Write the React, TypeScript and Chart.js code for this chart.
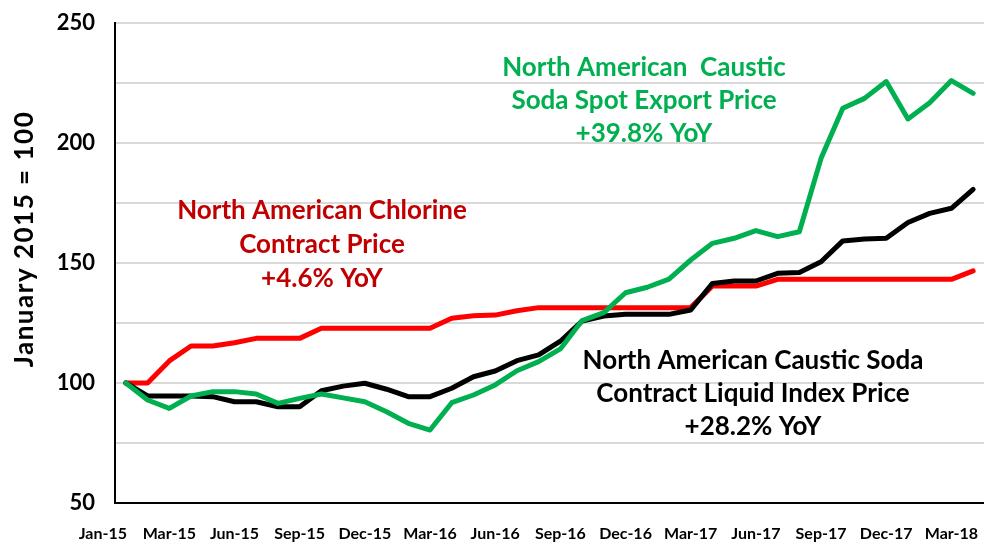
import React, { useEffect, useRef } from "react";
import { Chart, registerables } from "chart.js";

Chart.register(...registerables);

const months = [
  "Jan-15", "Feb-15", "Mar-15", "Apr-15", "May-15", "Jun-15", "Jul-15", "Aug-15", "Sep-15", "Oct-15", "Nov-15", "Dec-15",
  "Jan-16", "Feb-16", "Mar-16", "Apr-16", "May-16", "Jun-16", "Jul-16", "Aug-16", "Sep-16", "Oct-16", "Nov-16", "Dec-16",
  "Jan-17", "Feb-17", "Mar-17", "Apr-17", "May-17", "Jun-17", "Jul-17", "Aug-17", "Sep-17", "Oct-17", "Nov-17", "Dec-17",
  "Jan-18", "Feb-18", "Mar-18", "Apr-18",
];

const chlorineContract = [
  100, 100, 109.2, 115.4, 115.4, 116.8, 118.6, 118.6, 118.6, 122.8, 122.8, 122.8,
  122.8, 122.8, 122.8, 127, 128, 128.3, 130.1, 131.4, 131.4, 131.4, 131.4, 131.4,
  131.4, 131.4, 131.4, 140.4, 140.4, 140.4, 143.2, 143.2, 143.2, 143.2, 143.2, 143.2,
  143.2, 143.2, 143.2, 146.7,
];

const causticContract = [
  100, 94.6, 94.6, 94.6, 94.3, 92.2, 92.2, 90.1, 90.1, 96.8, 98.7, 99.9,
  97.4, 94.3, 94.3, 97.8, 102.6, 105, 109.3, 111.7, 117.4, 125.8, 127.9, 128.6,
  128.6, 128.6, 130.4, 141.5, 142.5, 142.5, 145.7, 146, 150.5, 159.2, 160, 160.3,
  166.9, 170.7, 172.8, 180.7,
];

const causticSpotExport = [
  100, 92.9, 89.4, 94.6, 96.4, 96.4, 95.4, 91.5, 93.6, 95.4, 93.8, 92.2,
  88, 83.2, 80.4, 91.8, 95, 99.2, 105.1, 108.9, 114.2, 126, 129.3, 137.6,
  139.9, 143.3, 151.25, 158.2, 160.3, 163.5, 161, 163, 193.6, 214.5, 218.6, 225.6,
  210, 216.8, 226, 220.7,
];

const yTickLabels = [50, 100, 150, 200, 250];
const yAxisTitle = "January 2015 = 100";

const greenNote = ["North American  Caustic", "Soda Spot Export Price", "+39.8% YoY"];
const redNote = ["North American Chlorine", "Contract Price", "+4.6% YoY"];
const blackNote = ["North American Caustic Soda", "Contract Liquid Index Price", "+28.2% YoY"];

const FONT = "Lato, 'Open Sans', sans-serif";
const X_TICK_SIZE = 16;
const X_TICK_PAD = 21;

export default function App() {
  const ref = useRef<HTMLCanvasElement | null>(null);

  useEffect(() => {
    document.body.style.margin = "0";
    const canvas = ref.current;
    if (!canvas) return;

    const notesPlugin = {
      id: "notes",
      afterDraw(chart: any) {
        const ctx = chart.ctx;
        ctx.save();
        const drawNote = (lines: string[], cx: number, ys: number[], color: string, size: number) => {
          ctx.font = `bold ${size}px ${FONT}`;
          ctx.fillStyle = color;
          ctx.textAlign = "center";
          ctx.textBaseline = "alphabetic";
          lines.forEach((l, i) => ctx.fillText(l, cx, ys[i] + size * 0.36));
        };
        drawNote(greenNote, 644, [67, 100, 133], "#00b050", 26);
        drawNote(redNote, 322, [210, 244, 278], "#c00000", 26);
        drawNote(blackNote, 753, [360, 393, 426], "#000000", 26);

        // y-axis title
        ctx.save();
        ctx.translate(25, 239);
        ctx.rotate(-Math.PI / 2);
        ctx.font = `bold 26px ${FONT}`;
        try { (ctx as any).letterSpacing = "1.5px"; } catch (e) {}
        ctx.fillStyle = "#000";
        ctx.textAlign = "center";
        ctx.textBaseline = "middle";
        ctx.fillText(yAxisTitle, 0, 0);
        try { (ctx as any).letterSpacing = "0px"; } catch (e) {}
        ctx.restore();

        // first category label (offset left like the source)
        const xs = chart.scales.x;
        ctx.font = `bold ${X_TICK_SIZE}px ${FONT}`;
        ctx.fillStyle = "#000";
        ctx.textAlign = "center";
        ctx.textBaseline = "middle";
        ctx.fillText(months[0], xs.getPixelForValue(0) - 23, xs.top + X_TICK_PAD + X_TICK_SIZE * 0.6);
        ctx.restore();
      },
    };

    const chart = new Chart(canvas, {
      type: "line",
      data: {
        labels: months,
        datasets: [
          {
            label: "North American Caustic Soda Spot Export Price",
            data: causticSpotExport,
            borderColor: "#00b050",
            backgroundColor: "#00b050",
            borderWidth: 5,
            pointRadius: 0,
            tension: 0,
            borderJoinStyle: "round",
            borderCapStyle: "round",
            order: 0,
          },
          {
            label: "North American Caustic Soda Contract Liquid Index Price",
            data: causticContract,
            borderColor: "#000000",
            backgroundColor: "#000000",
            borderWidth: 5,
            pointRadius: 0,
            tension: 0,
            borderJoinStyle: "round",
            borderCapStyle: "round",
            order: 1,
          },
          {
            label: "North American Chlorine Contract Price",
            data: chlorineContract,
            borderColor: "#ff0000",
            backgroundColor: "#ff0000",
            borderWidth: 5,
            pointRadius: 0,
            tension: 0,
            borderJoinStyle: "round",
            borderCapStyle: "round",
            order: 2,
          },
        ],
      },
      options: {
        responsive: false,
        animation: false,
        events: [],
        layout: { padding: { top: 23, right: 0, left: 0, bottom: 0 } },
        plugins: {
          legend: { display: false },
          tooltip: { enabled: false },
          title: { display: false },
        },
        scales: {
          x: {
            type: "category",
            offset: true,
            grid: { display: false, drawTicks: false },
            border: { display: true, color: "#000", width: 2 },
            afterFit: (s: any) => { s.height = 41; s.paddingLeft = 0; s.paddingRight = 0; },
            ticks: {
              autoSkip: false,
              maxRotation: 0,
              minRotation: 0,
              padding: X_TICK_PAD,
              color: "#000",
              font: { family: FONT, size: X_TICK_SIZE, weight: "bold" },
              callback: (_v: any, i: number) => (i % 3 === 2 ? months[i] : ""),
            },
          },
          y: {
            min: 50,
            max: 250,
            grid: { color: "#d9d9d9", lineWidth: 2, drawTicks: false },
            border: { display: true, color: "#000", width: 2 },
            afterFit: (s: any) => { s.width = 115; s.paddingTop = 0; s.paddingBottom = 0; },
            ticks: {
              stepSize: 25,
              padding: 20,
              color: "#000",
              font: { family: FONT, size: 22, weight: "bold" },
              callback: (v: any) => (yTickLabels.includes(Number(v)) ? String(v) : ""),
            },
          },
        },
      },
      plugins: [notesPlugin],
    });

    return () => chart.destroy();
  }, []);

  return (
    <div style={{ width: 984, height: 544 }}>
      <canvas ref={ref} width={984} height={544} style={{ display: "block" }} />
    </div>
  );
}
